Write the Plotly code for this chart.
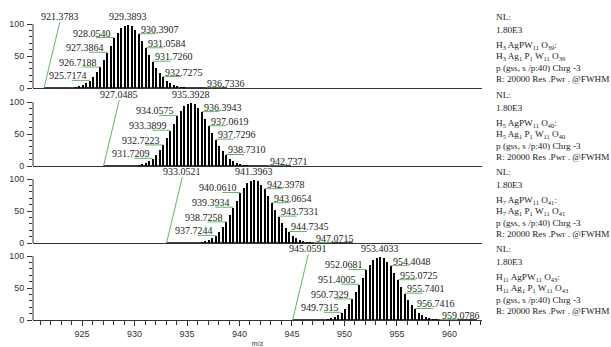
import plotly.graph_objects as go
from plotly.subplots import make_subplots

# ---------------- data ----------------
mz_p1 = [924.3826, 924.7164, 925.0502, 925.3839, 925.7174, 926.0515, 926.3853, 926.7188,
         927.0528, 927.3864, 927.7204, 928.0540, 928.3880, 928.7217, 929.0555, 929.3893,
         929.7231, 930.0569, 930.3907, 930.7244, 931.0584, 931.3920, 931.7260, 932.0596,
         932.3934, 932.7275, 933.0609, 933.3947, 933.7285, 934.0623, 934.3961, 934.7298,
         935.0636, 935.3974, 935.7312, 936.0650, 936.3988, 936.7336]
mz_p2 = [930.3861, 930.7199, 931.0537, 931.3874, 931.7209, 932.0550, 932.3888, 932.7223,
         933.0563, 933.3899, 933.7239, 934.0575, 934.3915, 934.7252, 935.0590, 935.3928,
         935.7266, 936.0604, 936.3943, 936.7279, 937.0619, 937.3955, 937.7296, 938.0631,
         938.3969, 938.7310, 939.0644, 939.3982, 939.7320, 940.0658, 940.3996, 940.7333,
         941.0671, 941.4009, 941.7347, 942.0685, 942.4023, 942.7371]
mz_p3 = [936.3896, 936.7234, 937.0572, 937.3909, 937.7244, 938.0585, 938.3923, 938.7258,
         939.0598, 939.3934, 939.7274, 940.0610, 940.3950, 940.7287, 941.0625, 941.3963,
         941.7301, 942.0639, 942.3978, 942.7314, 943.0654, 943.3990, 943.7331, 944.0666,
         944.4004, 944.7345, 945.0679, 945.4017, 945.7355, 946.0693, 946.4031, 946.7368,
         947.0715, 947.4044, 947.7382, 948.0720, 948.4058, 948.7406]
mz_p4 = [948.3966, 948.7304, 949.0642, 949.3979, 949.7315, 950.0655, 950.3993, 950.7329,
         951.0668, 951.4005, 951.7344, 952.0681, 952.4020, 952.7357, 953.0695, 953.4033,
         953.7371, 954.0709, 954.4048, 954.7384, 955.0725, 955.4060, 955.7401, 956.0736,
         956.4074, 956.7416, 957.0749, 957.4087, 957.7425, 958.0763, 958.4101, 958.7438,
         959.0786, 959.4114, 959.7452, 960.0790, 960.4128, 960.7476]

# relative abundance (%) of each isotope peak (same envelope in all four panels)
rel_int = [2.0, 3.5, 5.5, 8.5, 12, 18, 25, 33,
           44, 56, 66, 79, 87, 94, 98, 100,
           97, 92, 85, 75, 63, 52, 42, 32,
           24, 18, 12, 8, 5.2, 3.3, 2.0, 1.2,
           0.7, 0.4, 0.3, 0.2, 0.15, 0.1]

# simulated trace range (start is labelled)
start_mz = [921.3783, 927.0485, 933.0521, 945.0591]
end_mz = [938.8, 944.9, 950.8, 962.6]

# labelled peaks
label_p1 = [925.7174, 926.7188, 927.3864, 928.0540, 929.3893, 930.3907, 931.0584, 931.7260, 932.7275, 936.7336]
label_p2 = [931.7209, 932.7223, 933.3899, 934.0575, 935.3928, 936.3943, 937.0619, 937.7296, 938.7310, 942.7371]
label_p3 = [937.7244, 938.7258, 939.3934, 940.0610, 941.3963, 942.3978, 943.0654, 943.7331, 944.7345, 947.0715]
label_p4 = [949.7315, 950.7329, 951.4005, 952.0681, 953.4033, 954.4048, 955.0725, 955.7401, 956.7416, 959.0786]

formula_h = ["3", "5", "7", "11"]
formula_o = ["39", "40", "41", "43"]
nl_value = "1.80E3"

x_ticks = [925, 930, 935, 940, 945, 950, 955, 960]
y_ticks = [0, 50, 100]

# ---------------- figure ----------------
mz_panels = [mz_p1, mz_p2, mz_p3, mz_p4]
label_panels = [label_p1, label_p2, label_p3, label_p4]

fig = make_subplots(rows=4, cols=1, shared_xaxes=True, vertical_spacing=0.005)

GREEN = "#62b562"
SERIF = "Liberation Serif"
TXT = "#222"
dom_bottom = [0.753, 0.5, 0.25, 0.0]
dom_h = 0.245
plot_h_px = 308
plot_bottom_px = 320

annotations = []
shapes = []
for i in range(4):
    r = i + 1
    sfx = "" if r == 1 else str(r)
    mz = mz_panels[i]
    fig.add_trace(go.Scatter(x=[start_mz[i], end_mz[i]], y=[0, 0], mode="lines",
                             line=dict(color="black", width=1.6), hoverinfo="skip",
                             showlegend=False), row=r, col=1)
    fig.add_trace(go.Bar(x=mz, y=rel_int, width=0.1,
                         marker=dict(color="black", line=dict(width=0)),
                         showlegend=False), row=r, col=1)

    # y axis line 0..100
    shapes.append(dict(type="line", xref=f"x{sfx} domain", yref=f"y{sfx}",
                       x0=0, x1=0, y0=0, y1=100, line=dict(color="#333", width=1)))

    apex = mz[rel_int.index(max(rel_int))]
    for lm in label_panels[i]:
        j = min(range(len(mz)), key=lambda k: abs(mz[k] - lm))
        h = rel_int[j]
        txt = f"{lm:.4f}"
        if abs(lm - apex) < 1e-6:
            annotations.append(dict(x=lm, y=h, xref=f"x{sfx}", yref=f"y{sfx}", text=txt,
                                    showarrow=False, xanchor="center", yanchor="bottom",
                                    font=dict(family=SERIF, size=10, color=TXT)))
        elif lm < apex:
            annotations.append(dict(x=lm, y=h, xref=f"x{sfx}", yref=f"y{sfx}", text=txt,
                                    showarrow=False, xanchor="right", yanchor="bottom",
                                    xshift=-1, yshift=-3,
                                    font=dict(family=SERIF, size=10, color=TXT)))
            shapes.append(dict(type="line", xref=f"x{sfx}", yref=f"y{sfx}",
                               x0=lm - 1.7, x1=lm, y0=h, y1=h,
                               line=dict(color=GREEN, width=1)))
        else:
            annotations.append(dict(x=lm, y=h, xref=f"x{sfx}", yref=f"y{sfx}", text=txt,
                                    showarrow=False, xanchor="left", yanchor="bottom",
                                    xshift=0, yshift=-3,
                                    font=dict(family=SERIF, size=10, color=TXT)))
            shapes.append(dict(type="line", xref=f"x{sfx}", yref=f"y{sfx}",
                               x0=lm, x1=lm + 1.7, y0=h, y1=h,
                               line=dict(color=GREEN, width=1)))

    # start label with slanted leader
    s = start_mz[i]
    shapes.append(dict(type="line", xref=f"x{sfx}", yref=f"y{sfx}",
                       x0=s, x1=s + 1.5, y0=0, y1=103, line=dict(color=GREEN, width=1)))
    annotations.append(dict(x=s + 1.5, y=103, xref=f"x{sfx}", yref=f"y{sfx}",
                            text=f"{s:.4f}", showarrow=False, xanchor="center",
                            yanchor="bottom", yshift=-2,
                            font=dict(family=SERIF, size=10, color=TXT)))

    # right-hand info block
    zero_px = plot_bottom_px - dom_bottom[i] * plot_h_px
    lines = [
        "NL:",
        nl_value,
        f"H<sub>{formula_h[i]}</sub> AgPW<sub>11</sub> O<sub>{formula_o[i]}</sub>:",
        f"H<sub>{formula_h[i]}</sub> Ag<sub>1</sub> P<sub>1</sub> W<sub>11</sub> O<sub>{formula_o[i]}</sub>",
        "p (gss, s /p:40) Chrg -3",
        "R: 20000 Res .Pwr . @FWHM",
    ]
    offs = [-71, -58, -43, -32, -20, -9]
    for t, o in zip(lines, offs):
        ypix = zero_px + o
        annotations.append(dict(x=1.0267, y=(plot_bottom_px - ypix) / plot_h_px,
                                xref="paper", yref="paper",
                                text=t, showarrow=False, xanchor="left", yanchor="middle",
                                font=dict(family=SERIF, size=9.2, color=TXT)))

    # axes
    fig.update_yaxes(row=r, col=1, range=[0, 118], domain=[dom_bottom[i], dom_bottom[i] + dom_h],
                     tickvals=y_ticks, ticks="outside", ticklen=5, tickcolor="#333",
                     minor=dict(tickvals=[10, 20, 30, 40, 60, 70, 80, 90], ticks="outside",
                                ticklen=3, tickcolor="#333"),
                     showline=False, showgrid=False, zeroline=False, automargin=False,
                     ticklabelstandoff=1,
                     tickfont=dict(family="Liberation Sans", size=9, color="#333"))
    fig.update_xaxes(row=r, col=1, range=[920.33, 963.1], showline=True, linecolor="#333",
                     linewidth=1, showgrid=False, zeroline=False, automargin=False)
    if r < 4:
        fig.update_xaxes(row=r, col=1, ticks="", showticklabels=False)
    else:
        fig.update_xaxes(row=r, col=1, tickvals=x_ticks, ticks="outside", ticklen=5,
                         tickcolor="#333", ticklabelstandoff=0,
                         minor=dict(dtick=1, tick0=920, ticks="outside", ticklen=4, tickcolor="#333"),
                         tickfont=dict(family="Liberation Sans", size=9, color="#333"),
                         title=dict(text="m/z", standoff=6,
                                    font=dict(family="Liberation Sans", size=7, color="#333")))

fig.update_layout(width=611, height=347, margin=dict(l=33, r=129, t=12, b=27),
                  paper_bgcolor="white", plot_bgcolor="white", showlegend=False,
                  bargap=0, annotations=annotations, shapes=shapes)

fig.write_html("out.html")
